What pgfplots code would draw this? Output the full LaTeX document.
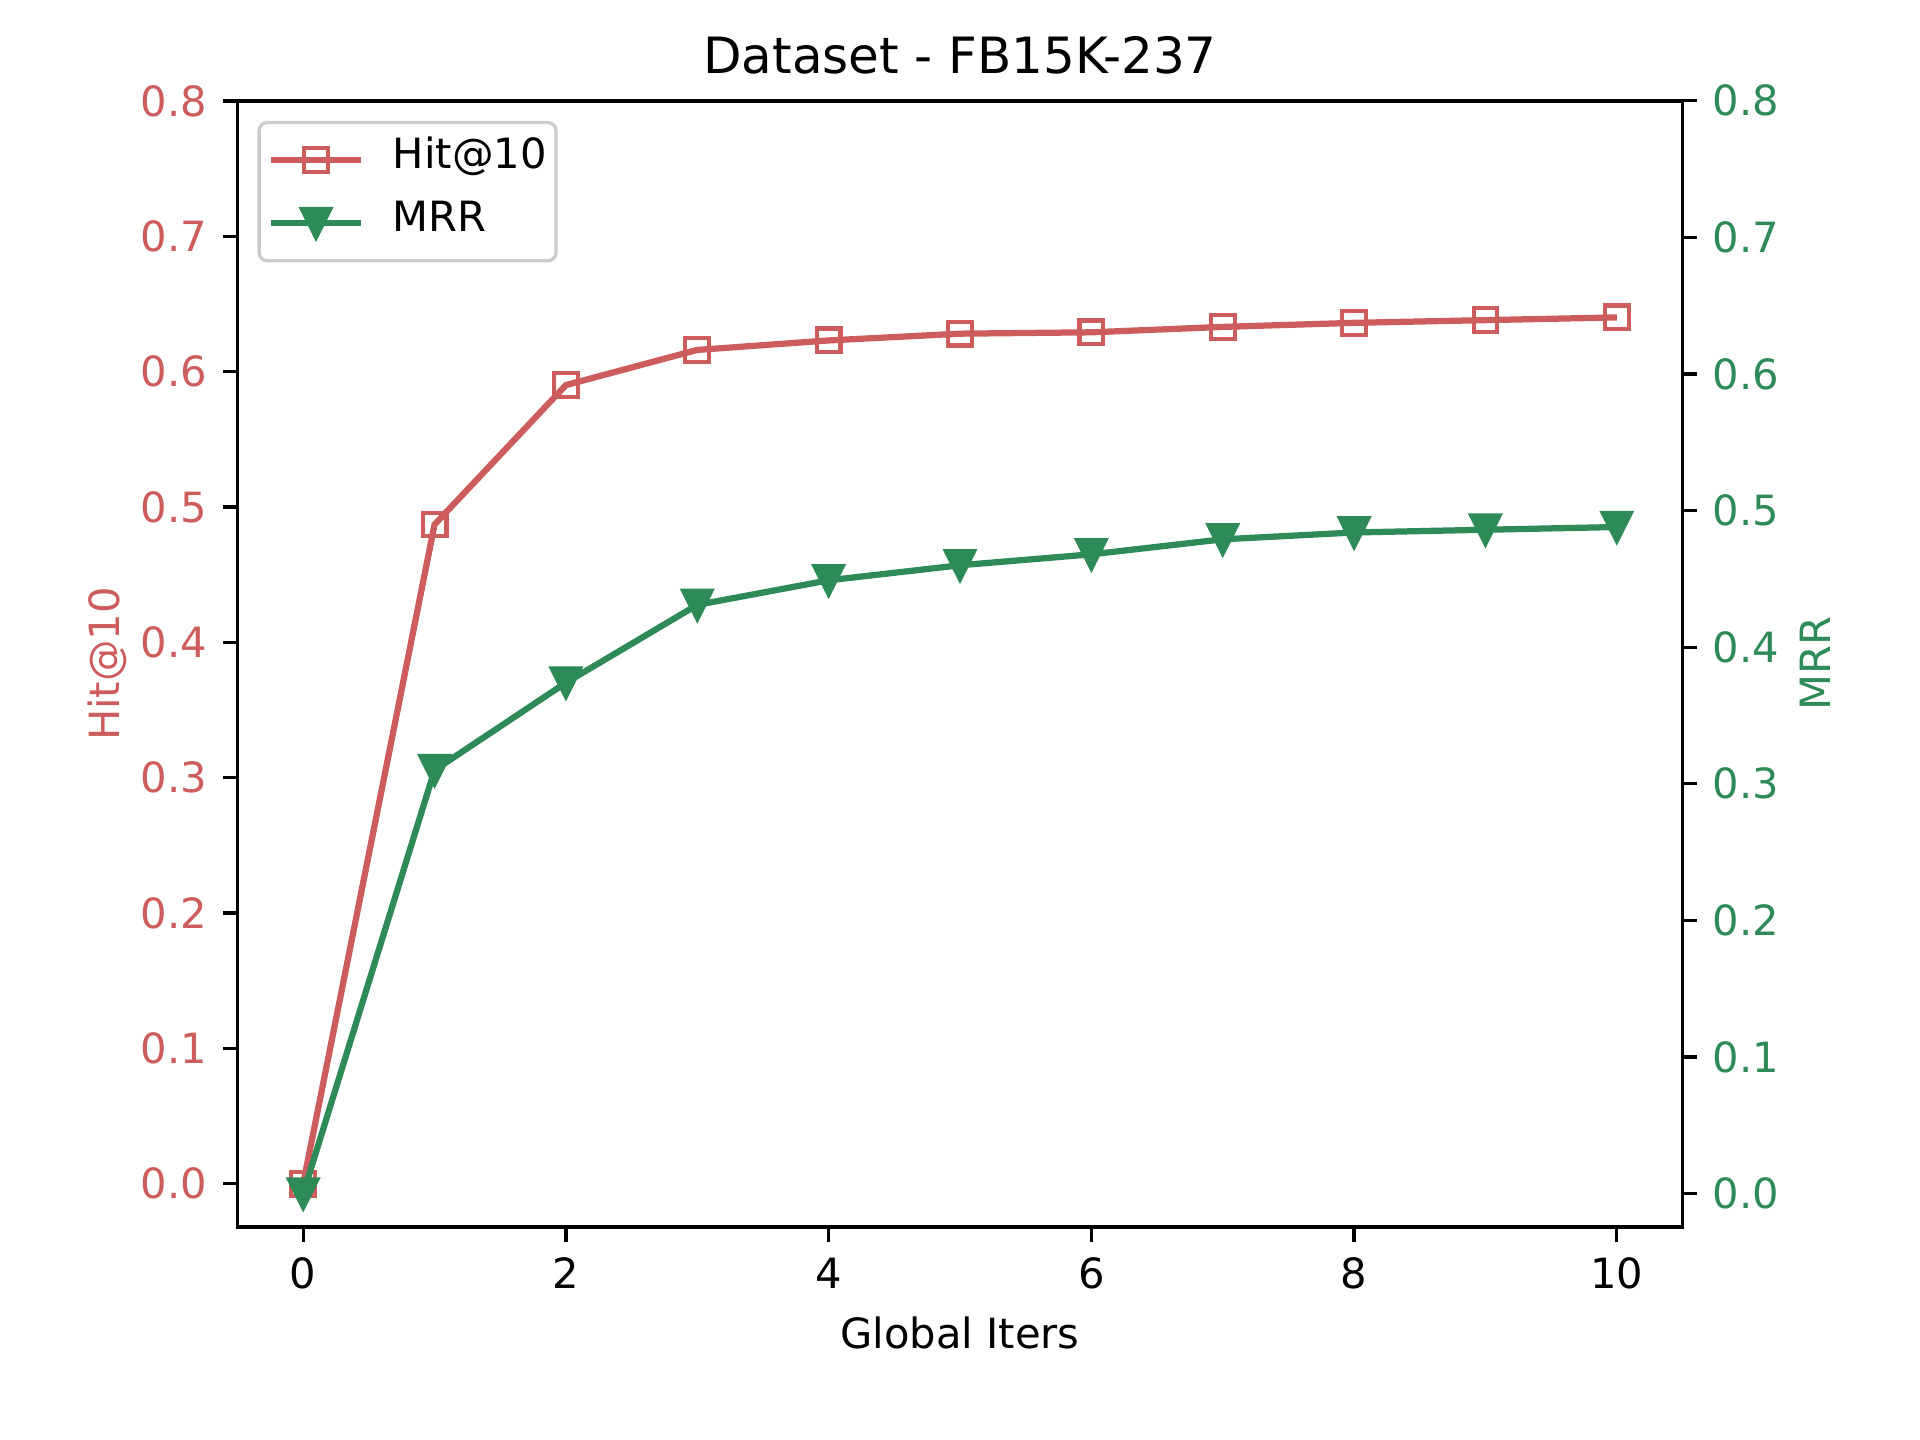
\documentclass[border=0pt]{standalone}
\usepackage{fontspec}
\setmainfont{DejaVu Sans}
\usepackage{pgfplots}
\pgfplotsset{compat=1.18}
\definecolor{hitc}{HTML}{CD5C5C}
\definecolor{mrrc}{HTML}{2E8B57}
\pgfdeclareplotmark{tridown}{%
 \pgfpathmoveto{\pgfqpoint{0pt}{-\pgfplotmarksize}}%
 \pgfpathlineto{\pgfqpoint{-\pgfplotmarksize}{\pgfplotmarksize}}%
 \pgfpathlineto{\pgfqpoint{\pgfplotmarksize}{\pgfplotmarksize}}%
 \pgfpathclose\pgfusepathqfillstroke}
\pgfplotstableread{
x y
0 0.000
1 0.487
2 0.590
3 0.616
4 0.623
5 0.628
6 0.629
7 0.633
8 0.636
9 0.638
10 0.640
}\hittable
\pgfplotstableread{
x y
0 0.000
1 0.310
2 0.374
3 0.431
4 0.449
5 0.460
6 0.468
7 0.479
8 0.484
9 0.486
10 0.488
}\mrrtable
\pgfplotsset{
 base/.style={
  scale only axis, width=346.8pt, height=270.3pt,
  at={(0,0)}, anchor=south west,
  xmin=-0.5, xmax=10.5,
  axis line style={line width=0.8pt},
  every tick/.style={black, line width=0.8pt},
  major tick length=3.5pt,
  /pgf/number format/assume math mode=true,
  tick label style={font=\fontsize{10}{12}\selectfont, inner sep=0pt},
  label style={font=\fontsize{10}{12}\selectfont},
  ytick={0,0.1,0.2,0.3,0.4,0.5,0.6,0.7,0.8},
  yticklabel style={/pgf/number format/fixed, /pgf/number format/fixed zerofill, /pgf/number format/precision=1},
  scaled y ticks=false,
 },
 hitstyle/.style={hitc, line width=1.5pt, mark=square, mark size=2.85pt, mark options={line width=1pt, solid}},
 mrrstyle/.style={mrrc, line width=1.5pt, mark=tridown, mark size=3.4pt, mark options={line width=1pt, solid, fill=mrrc}},
}
\begin{document}
\begin{tikzpicture}
\path[use as bounding box] (-57.0pt,-51.1pt) rectangle (403.8pt,294.5pt);
\begin{axis}[base,
 ymin=-0.032, ymax=0.8,
 xtick={0,2,4,6,8,10},
 xtick pos=bottom, ytick pos=left,
 tick align=outside,
 yticklabel style={text=hitc, anchor=east, xshift=-3.6pt},
 xticklabel style={anchor=north, yshift=-3.7pt},
 title={Dataset - FB15K-237},
 every axis title/.style={at={(axis description cs:0.5,1)}, anchor=base, yshift=6.6pt, font=\fontsize{12}{14}\selectfont},
 xlabel={Global Iters},
 every axis x label/.style={at={(axis description cs:0.5,0)}, anchor=base, yshift=-29.1pt},
 ylabel={Hit@10},
 every axis y label/.style={at={(axis description cs:0,0.5)}, anchor=base, xshift=-28.4pt, rotate=90, text=hitc},
]
\addplot[hitstyle] table[x=x,y=y] {\hittable};
\end{axis}
\begin{axis}[base,
 ymin=-0.0245, ymax=0.8,
 axis x line=none, axis y line*=right,
 tick align=outside,
 yticklabel style={text=mrrc, anchor=west, xshift=3.6pt},
 ylabel={MRR},
 every axis y label/.style={at={(axis description cs:1,0.5)}, anchor=base, xshift=35.6pt, rotate=90, text=mrrc},
 legend style={at={(axis description cs:0,1)}, anchor=north west, xshift=4.8pt, yshift=-4.8pt,
   draw=black!20, line width=0.8pt, rounded corners=2pt, fill=white,
   font=\fontsize{10}{12}\selectfont, inner xsep=2.2pt, inner ysep=1.5pt, row sep=0pt, column sep=7pt,
   nodes={inner sep=0pt, text height=9.6pt, text depth=5.5pt}},
 legend image code/.code={\draw[mark repeat=2, mark phase=2, sharp corners, #1] plot coordinates {(0pt,0pt) (10.7pt,0pt) (21.4pt,0pt)};},
 legend cell align=left,
]
\addlegendimage{hitstyle}
\addlegendentry{Hit@10}
\addplot[mrrstyle] table[x=x,y=y] {\mrrtable};
\addlegendentry{MRR}
\end{axis}
\end{tikzpicture}
\end{document}
